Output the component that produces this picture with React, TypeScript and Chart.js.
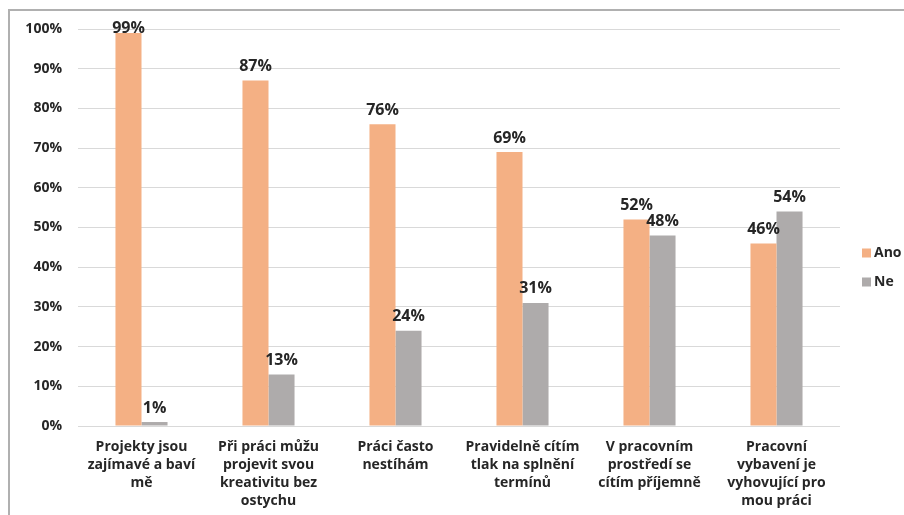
import React, { useEffect, useRef } from "react";
import { Chart, registerables } from "chart.js";

Chart.register(...registerables);

const categories: string[][] = [
  ["Projekty jsou", "zajímavé a baví", "mě"],
  ["Při práci můžu", "projevit svou", "kreativitu bez", "ostychu"],
  ["Práci často", "nestíhám"],
  ["Pravidelně cítím", "tlak na splnění", "termínů"],
  ["V pracovním", "prostředí se", "cítím příjemně"],
  ["Pracovní", "vybavení je", "vyhovující pro", "mou práci"],
];
const seriesNames = ["Ano", "Ne"];
const anoValues = [99, 87, 76, 69, 52, 46];
const neValues = [1, 13, 24, 31, 48, 54];
const colors = ["#F4B084", "#AEABAB"];
const yTicks = [0, 10, 20, 30, 40, 50, 60, 70, 80, 90, 100];

const FONT = "'Open Sans', 'DejaVu Sans', sans-serif";
const TEXT = "#262626";

const labelPlugin = {
  id: "valueLabels",
  afterDatasetsDraw(chart: any) {
    const ctx = chart.ctx;
    ctx.save();
    ctx.font = `bold 16px ${FONT}`;
    ctx.fillStyle = TEXT;
    ctx.textAlign = "center";
    ctx.textBaseline = "middle";
    chart.data.datasets.forEach((ds: any, i: number) => {
      const meta = chart.getDatasetMeta(i);
      meta.data.forEach((bar: any, j: number) => {
        const y = Math.max(bar.y - 14, chart.chartArea.top - 1);
        ctx.fillText(ds.data[j] + "%", bar.x, y);
      });
    });
    ctx.restore();
  },
};

const legendPlugin = {
  id: "sideLegend",
  afterDraw(chart: any) {
    const ctx = chart.ctx;
    ctx.save();
    ctx.font = `bold 14px ${FONT}`;
    ctx.textAlign = "left";
    ctx.textBaseline = "middle";
    const x = chart.chartArea.right + 22;
    const y0 = 242;
    chart.data.datasets.forEach((ds: any, i: number) => {
      const y = y0 + i * 29;
      ctx.fillStyle = ds.backgroundColor;
      ctx.fillRect(x, y - 4.5, 9, 9);
      ctx.fillStyle = TEXT;
      ctx.fillText(ds.label, x + 12, y);
    });
    ctx.restore();
  },
};

export default function App() {
  const ref = useRef<HTMLCanvasElement>(null);
  useEffect(() => {
    if (!ref.current) return;
    const chart = new Chart(ref.current, {
      type: "bar",
      data: {
        labels: categories,
        datasets: [
          { label: seriesNames[0], data: anoValues, backgroundColor: colors[0] },
          { label: seriesNames[1], data: neValues, backgroundColor: colors[1] },
        ],
      },
      options: {
        responsive: false,
        animation: false,
        layout: { padding: { left: 0, right: 70, top: 18, bottom: 0 } },
        datasets: { bar: { categoryPercentage: 0.41, barPercentage: 1 } },
        plugins: { legend: { display: false }, tooltip: { enabled: false } },
        scales: {
          x: {
            grid: { display: false, drawTicks: false },
            border: { display: false },
            ticks: {
              padding: 12,
              maxRotation: 0,
              autoSkip: false,
              color: TEXT,
              font: { family: FONT, size: 14, weight: "bold", lineHeight: 18 / 14 },
            },
            afterFit(scale: any) {
              scale.height = 89;
              scale.paddingTop = 0;
              scale.paddingBottom = 0;
            },
          },
          y: {
            min: 0,
            max: 100,
            afterBuildTicks(scale: any) {
              scale.ticks = yTicks.map((v) => ({ value: v }));
            },
            grid: { color: "#D9D9D9", lineWidth: 1, drawTicks: false },
            border: { display: false },
            ticks: {
              padding: 16,
              color: TEXT,
              font: { family: FONT, size: 14, weight: "bold" },
              callback: (v: any) => v + "%",
            },
            afterFit(scale: any) {
              scale.width = 68;
              scale.paddingTop = 0;
              scale.paddingBottom = 0;
            },
          },
        },
      },
      plugins: [labelPlugin, legendPlugin],
    });
    return () => chart.destroy();
  }, []);

  return (
    <div
      style={{
        position: "fixed",
        left: 8,
        top: 9,
        width: 900,
        height: 504,
        border: "2px solid #B0B0B0",
        background: "#fff",
      }}
    >
      <canvas ref={ref} width={900} height={504} style={{ display: "block" }} />
    </div>
  );
}
